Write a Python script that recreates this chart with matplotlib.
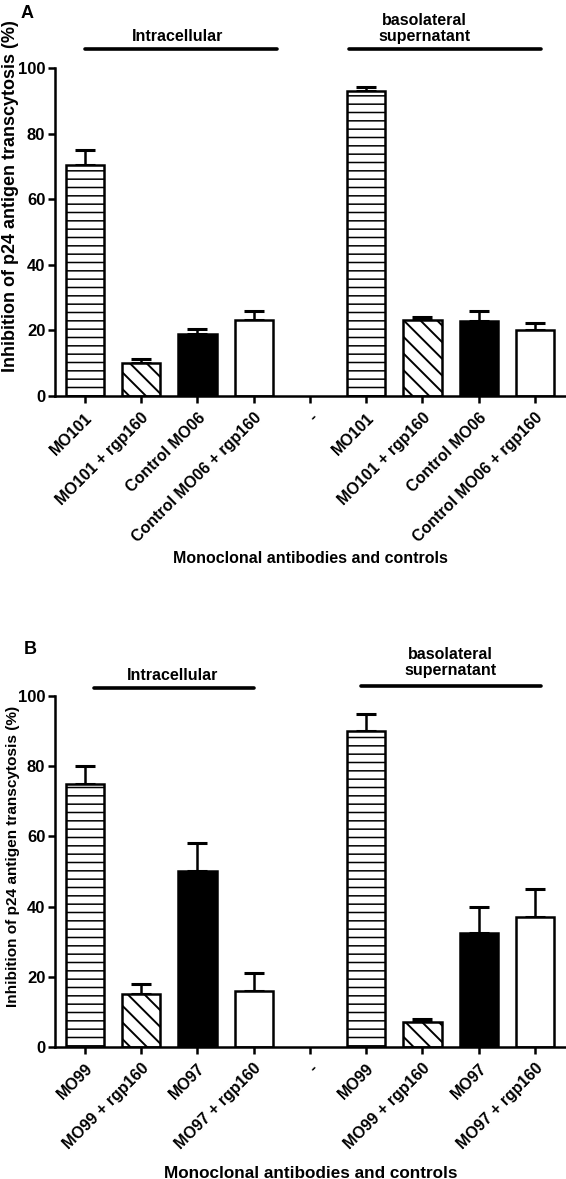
import matplotlib
matplotlib.use("Agg")
from matplotlib import pyplot as plt

plt.rcParams['font.family'] = ['Liberation Sans', 'DejaVu Sans']
plt.rcParams['font.weight'] = 'bold'
plt.rcParams['axes.labelweight'] = 'bold'
plt.rcParams['hatch.linewidth'] = 1.4

# panel A
labels_a = ['MO101', 'MO101 + rgp160', 'Control MO06', 'Control MO06 + rgp160', '-',
            'MO101', 'MO101 + rgp160', 'Control MO06', 'Control MO06 + rgp160']
values_a = [70.5, 10.2, 19.0, 23.2, 0, 93.0, 23.2, 23.0, 20.2]
errors_a = [4.5, 1.0, 1.5, 2.8, 0, 1.3, 1.0, 3.0, 2.0]

# panel B
labels_b = ['MO99', 'MO99 + rgp160', 'MO97', 'MO97 + rgp160', '-',
            'MO99', 'MO99 + rgp160', 'MO97', 'MO97 + rgp160']
values_b = [75.0, 15.0, 50.0, 16.0, 0, 90.0, 7.0, 32.5, 37.0]
errors_b = [5.0, 3.0, 8.0, 5.0, 0, 5.0, 1.0, 7.5, 8.0]

styles = [('white', '--'), ('white', '\\\\'), ('black', ''), ('white', ''), ('white', '')] + \
         [('white', '--'), ('white', '\\\\'), ('black', ''), ('white', '')]


def draw_panel(ax, labels, values, errors, lines, line_y, text_x, text_y,
               ylab_font, ylab_pos, xlab_font, xlab_pad):
    x = range(len(labels))
    for i in x:
        if i == 4:
            continue
        face, hatch = styles[i]
        bars = ax.bar(i, values[i], width=0.68, color=face, edgecolor='black',
                      linewidth=1.8, hatch=hatch, zorder=2)
        if hatch == '--':
            try:
                bars[0].set_hatch_linewidth(1.1)
            except AttributeError:
                pass
        ax.errorbar(i, values[i], yerr=[[0], [errors[i]]], fmt='none',
                    ecolor='black', elinewidth=1.8, capsize=7, capthick=2.2, zorder=1)
    ax.set_xlim(-0.53, 8.55)
    ax.set_ylim(0, 100)
    ax.set_yticks([0, 20, 40, 60, 80, 100])
    ax.set_xticks(list(x))
    ax.set_xticklabels(labels, rotation=45, ha='right', rotation_mode='anchor', fontsize=11.5)
    ax.tick_params(axis='y', labelsize=12, width=1.8, length=5, pad=2)
    ax.tick_params(axis='x', width=1.8, length=5, pad=5)
    for s in ['top', 'right']:
        ax.spines[s].set_visible(False)
    for s in ['left', 'bottom']:
        ax.spines[s].set_linewidth(1.8)
    ax.set_ylabel('Inhibition of p24 antigen transcytosis (%)', fontsize=ylab_font)
    ax.yaxis.set_label_coords(ylab_pos[0], ylab_pos[1])
    ax.set_xlabel('Monoclonal antibodies and controls', fontsize=xlab_font, labelpad=xlab_pad)
    # group bars above the plot
    for (x0, x1), yy in zip(lines, line_y):
        ax.plot([x0, x1], [yy, yy], color='black', lw=2.6,
                clip_on=False, solid_capstyle='round')
    ax.text(text_x[0], text_y[0], 'Intracellular',
            ha='center', va='bottom', fontsize=11.5)
    ax.text(text_x[1], text_y[1], 'basolateral\nsupernatant',
            ha='center', va='bottom', fontsize=11.5, linespacing=1.15)
    return ax


fig = plt.figure(figsize=(5.66, 11.79), dpi=100)
ax1 = fig.add_axes([0.0972, 0.6641, 0.9028, 0.2782])
draw_panel(ax1, labels_a, values_a, errors_a, [(0.0, 3.41), (4.7, 8.1)], [105.8, 105.8],
           [1.64, 6.03], [107.2, 107.2], 13, (-0.07, 0.61), 11.5, 4)
fig.text(0.036, 0.996, 'A', fontsize=13, va='top')

ax2 = fig.add_axes([0.0972, 0.112, 0.9028, 0.2977])
draw_panel(ax2, labels_b, values_b, errors_b, [(0.17, 3.0), (4.9, 8.1)], [102.3, 102.8],
           [1.55, 6.5], [103.6, 105.0], 11.1, (-0.068, 0.543), 12.3, 10)
fig.text(0.042, 0.456, 'B', fontsize=13, va='top')

fig.savefig('out.png', dpi=100)
